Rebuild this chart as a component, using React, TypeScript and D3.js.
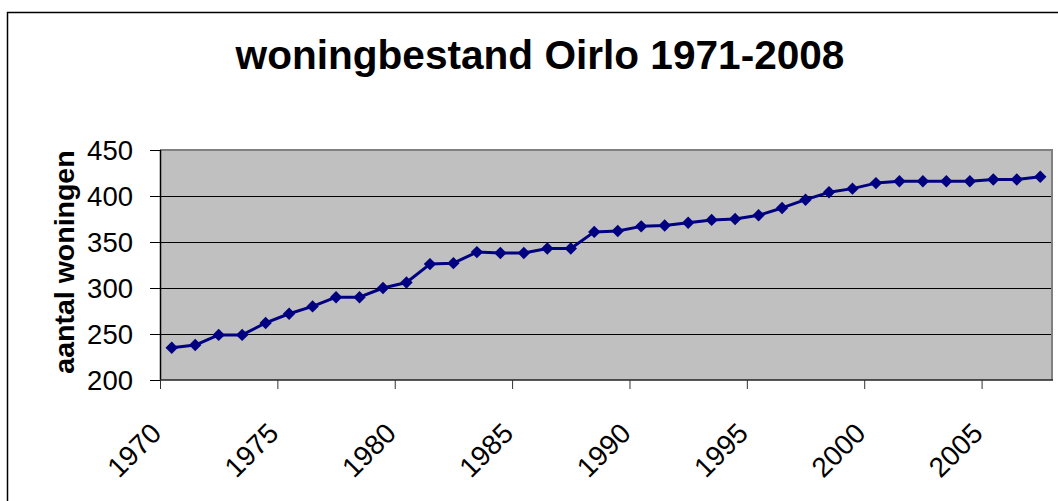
import React from "react";
import * as d3 from "d3";

const years: number[] = d3.range(1971, 2009);
const values: number[] = [
  235, 238, 249, 249, 262, 272, 280, 290, 290, 300,
  306, 326, 327, 339, 338, 338, 343, 343, 361, 362,
  367, 368, 371, 374, 375, 379, 387, 396, 404, 408,
  414, 416, 416, 416, 416, 418, 418, 421,
];
const yTicks: number[] = [200, 250, 300, 350, 400, 450];
const xTickLabels: number[] = [1970, 1975, 1980, 1985, 1990, 1995, 2000, 2005];
const title = "woningbestand Oirlo 1971-2008";
const yTitle = "aantal woningen";

const W = 1058;
const H = 501;
const plot = { left: 160, right: 1052, top: 150, bottom: 380 };
const font = "Arial, 'Liberation Sans', Helvetica, sans-serif";

export default function App() {
  const x = d3.scaleLinear().domain([1970, 2008]).range([plot.left, plot.right]);
  const y = d3.scaleLinear().domain([200, 450]).range([plot.bottom, plot.top]);
  const pts = years.map((yr, i) => [x(yr - 0.5), y(values[i])] as [number, number]);
  const line = d3.line<[number, number]>()(pts) || "";
  const diamond = d3.symbol().type(d3.symbolDiamond2).size(98)() || "";

  return (
    <svg
      width={W}
      height={H}
      style={{ position: "fixed", left: 0, top: 0, display: "block", background: "#fff" }}
      fontFamily={font}
    >
      <rect x={7.5} y={12.5} width={W + 20} height={H + 20} fill="#fff" stroke="#000" strokeWidth={1.5} />
      <text x={540} y={69} textAnchor="middle" fontSize={40.6} fontWeight="bold" fill="#000">
        {title}
      </text>

      <rect x={plot.left} y={plot.top} width={plot.right - plot.left} height={plot.bottom - plot.top} fill="#C0C0C0" />
      {yTicks.slice(1, -1).map((t) => (
        <line key={t} x1={plot.left} x2={plot.right} y1={y(t) + 0.5} y2={y(t) + 0.5} stroke="#000" strokeWidth={1} />
      ))}
      <line x1={plot.left} x2={plot.right + 1} y1={plot.top} y2={plot.top} stroke="#808080" strokeWidth={2} />
      <line x1={plot.right} x2={plot.right} y1={plot.top} y2={plot.bottom} stroke="#808080" strokeWidth={2} />

      {yTicks.map((t) => (
        <g key={t}>
          <line x1={plot.left - 10} x2={plot.left} y1={y(t) + 0.5} y2={y(t) + 0.5} stroke="#000" strokeWidth={1} />
          <text x={133} y={y(t)} dy="0.36em" textAnchor="end" fontSize={27.5} fill="#000">
            {t}
          </text>
        </g>
      ))}
      <line x1={plot.left + 0.5} x2={plot.left + 0.5} y1={plot.top} y2={plot.bottom} stroke="#000" strokeWidth={1.5} />
      <line x1={plot.left} x2={plot.right + 1} y1={plot.bottom} y2={plot.bottom} stroke="#222" strokeWidth={1.5} />

      {xTickLabels.map((t) => (
        <g key={t}>
          <line x1={x(t) + 0.5} x2={x(t) + 0.5} y1={plot.bottom} y2={plot.bottom + 9} stroke="#333" strokeWidth={1} />
          <text
            transform={`translate(${x(t) + 3},${435}) rotate(-45)`}
            textAnchor="end"
            fontSize={28}
            fill="#000"
          >
            {t}
          </text>
        </g>
      ))}

      <text
        transform={`translate(74,${(plot.top + plot.bottom) / 2 - 3}) rotate(-90)`}
        textAnchor="middle"
        fontSize={28.5}
        fontWeight="bold"
        fill="#000"
      >
        {yTitle}
      </text>

      <path d={line} fill="none" stroke="#000080" strokeWidth={3} strokeLinejoin="round" />
      {pts.map((p, i) => (
        <path key={i} d={diamond} transform={`translate(${p[0]},${p[1]})`} fill="#000080" />
      ))}
    </svg>
  );
}
